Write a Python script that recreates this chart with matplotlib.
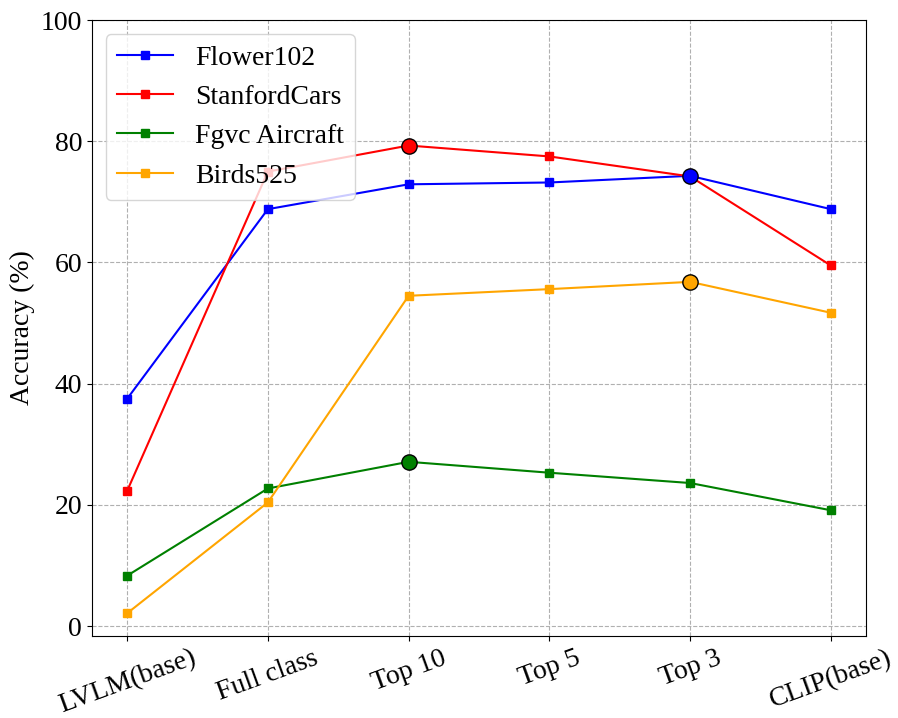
import matplotlib
matplotlib.use("Agg")
import matplotlib.pyplot as plt
import numpy as np

plt.rcParams['font.family'] = ['Liberation Serif', 'DejaVu Serif']
plt.rcParams['mathtext.fontset'] = 'stix'

categories = ["LVLM(base)", "Full class", "Top 10", "Top 5", "Top 3", "CLIP(base)"]
flower102 = [37.5, 68.8, 72.9, 73.2, 74.3, 68.8]
stanford_cars = [22.3, 75.0, 79.3, 77.5, 74.2, 59.5]
fgvc_aircraft = [8.3, 22.7, 27.1, 25.3, 23.6, 19.1]
birds525 = [2.1, 20.4, 54.5, 55.6, 56.8, 51.7]

series = [
    ("Flower102", flower102, "blue"),
    ("StanfordCars", stanford_cars, "red"),
    ("Fgvc Aircraft", fgvc_aircraft, "green"),
    ("Birds525", birds525, "orange"),
]

fig = plt.figure(figsize=(8.98, 7.18), dpi=100)
ax = fig.add_axes([0.1024, 0.1142, 0.862, 0.8578])

x = np.arange(len(categories))
for name, vals, col in series:
    ax.plot(x, vals, marker='s', color=col, label=name, linewidth=1.5, markersize=6)
for name, vals, col in series:
    i = int(np.argmax(vals))
    ax.plot(x[i], vals[i], marker='o', markersize=11, markerfacecolor=col,
            markeredgecolor='black', markeredgewidth=1, linestyle='none', zorder=5)

ax.set_xticks(x)
ax.set_xticklabels(categories, rotation=20, fontsize=20)
ax.tick_params(axis='y', labelsize=20)
ax.set_yticks([0, 20, 40, 60, 80, 100])
ax.set_ylim(-1.65, 100)
ax.set_xlim(-0.25, 5.25)
ax.set_ylabel("Accuracy (%)", fontsize=20)
ax.grid(True, linestyle='--', color='#b0b0b0', linewidth=0.8)
ax.legend(loc='upper left', fontsize=20)

fig.savefig("out.png", dpi=100)
